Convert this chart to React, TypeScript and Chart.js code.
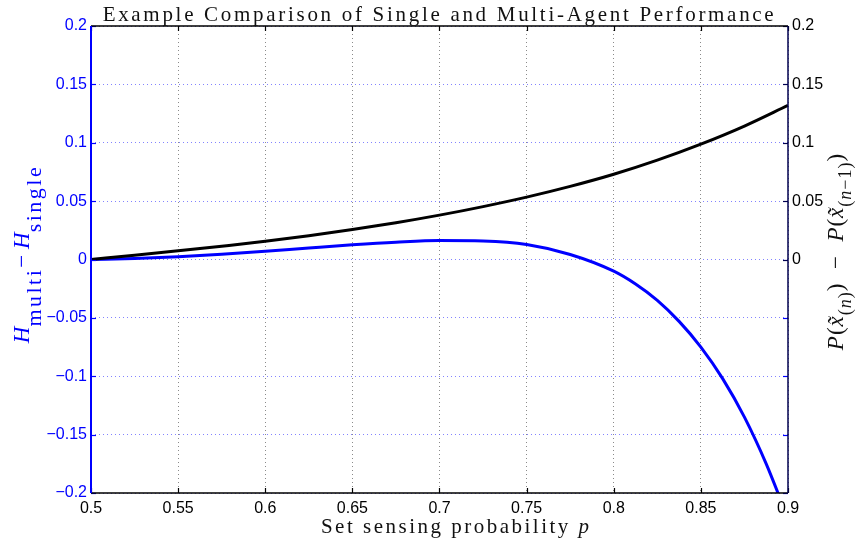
import { useEffect, useRef } from 'react';
import { Chart, registerables } from 'chart.js';

Chart.register(...registerables);

// ---- data ----
const orderP = [0.5, 0.525, 0.55, 0.575, 0.6, 0.625, 0.65, 0.675, 0.7, 0.725, 0.75, 0.775, 0.8, 0.825, 0.85, 0.875, 0.9];
const orderDiff = [0, 0.0036, 0.0074, 0.0114, 0.0156, 0.0204, 0.0257, 0.0315, 0.038, 0.0453, 0.0534, 0.0626, 0.073, 0.0851, 0.0988, 0.1143, 0.132];

const entropyP = [0.5, 0.525, 0.55, 0.575, 0.6, 0.625, 0.65, 0.675, 0.7, 0.725, 0.75, 0.775, 0.8, 0.8125, 0.825, 0.8375, 0.85, 0.8625, 0.875, 0.8875, 0.9];
const entropyDiff = [0, 0.0008, 0.0023, 0.0045, 0.0071, 0.0099, 0.0126, 0.0148, 0.0162, 0.0158, 0.0128, 0.0043, -0.01, -0.021, -0.035, -0.053, -0.075, -0.102, -0.135, -0.175, -0.222];

const xTicks = [0.5, 0.55, 0.6, 0.65, 0.7, 0.75, 0.8, 0.85, 0.9];
const leftTicks = [-0.2, -0.15, -0.1, -0.05, 0, 0.05, 0.1, 0.15, 0.2];
const rightTicks = [0, 0.05, 0.1, 0.15, 0.2];

const titleText = 'Example Comparison of Single and Multi-Agent Performance';

const BLUE = '#0000ff';
const NAVY = '#000050';
const SERIF = '"Liberation Serif", "DejaVu Serif", serif';
const SANS = '"Liberation Sans", Arial, sans-serif';

const fmt = (v: number) => {
  const r = Math.round(v * 1000) / 1000;
  if (r === 0) return '0';
  const s = String(Math.abs(r));
  return (r < 0 ? '\u2212' : '') + s;
};

type Seg = { t: string; f: string; dy?: number; ls?: number };

function drawRich(ctx: CanvasRenderingContext2D, segs: Seg[], cx: number, cy: number, rot: number, color: string) {
  ctx.save();
  ctx.translate(cx, cy);
  ctx.rotate(rot);
  ctx.fillStyle = color;
  ctx.textBaseline = 'alphabetic';
  ctx.textAlign = 'left';
  const c = ctx as any;
  let w = 0;
  for (const s of segs) {
    ctx.font = s.f;
    c.letterSpacing = (s.ls || 0) + 'px';
    w += ctx.measureText(s.t).width;
  }
  let x = -w / 2;
  for (const s of segs) {
    ctx.font = s.f;
    c.letterSpacing = (s.ls || 0) + 'px';
    ctx.fillText(s.t, x, s.dy || 0);
    x += ctx.measureText(s.t).width;
  }
  c.letterSpacing = '0px';
  ctx.restore();
}

const decorPlugin = {
  id: 'decor',
  afterDraw(chart: any) {
    const { ctx, chartArea: a, scales } = chart;
    const xs = scales.x;
    const ys = scales.y;
    const tl = 5;
    ctx.save();
    // inward ticks
    ctx.lineWidth = 1.2;
    ctx.strokeStyle = '#000';
    for (const v of xTicks) {
      const px = Math.round(xs.getPixelForValue(v)) + 0.5;
      ctx.beginPath();
      ctx.moveTo(px, a.bottom);
      ctx.lineTo(px, a.bottom - tl);
      ctx.moveTo(px, a.top);
      ctx.lineTo(px, a.top + tl);
      ctx.stroke();
    }
    for (const v of leftTicks) {
      const py = Math.round(ys.getPixelForValue(v)) + 0.5;
      ctx.strokeStyle = BLUE;
      ctx.beginPath();
      ctx.moveTo(a.left, py);
      ctx.lineTo(a.left + tl, py);
      ctx.stroke();
      ctx.strokeStyle = rightTicks.includes(v) ? NAVY : BLUE;
      ctx.beginPath();
      ctx.moveTo(a.right, py);
      ctx.lineTo(a.right - tl, py);
      ctx.stroke();
    }
    // axes box
    ctx.strokeStyle = '#000';
    ctx.lineWidth = 1.5;
    ctx.beginPath();
    ctx.moveTo(a.left, a.top);
    ctx.lineTo(a.right, a.top);
    ctx.moveTo(a.left, a.bottom);
    ctx.lineTo(a.right, a.bottom);
    ctx.stroke();
    ctx.strokeStyle = NAVY;
    ctx.beginPath();
    ctx.moveTo(a.right, a.top);
    ctx.lineTo(a.right, a.bottom);
    ctx.stroke();
    ctx.strokeStyle = BLUE;
    ctx.lineWidth = 2;
    ctx.beginPath();
    ctx.moveTo(a.left, a.top);
    ctx.lineTo(a.left, a.bottom);
    ctx.stroke();

    // title
    drawRich(ctx, [{ t: titleText, f: `21px ${SERIF}`, ls: 2.7 }], (a.left + a.right) / 2, a.top - 5, 0, '#111');

    // x title
    drawRich(ctx, [
      { t: 'Set sensing probability ', f: `21px ${SERIF}`, ls: 2.5 },
      { t: 'p', f: `italic 21px ${SERIF}` },
    ], 455, 533, 0, '#111');

    // left y title
    drawRich(ctx, [
      { t: 'H', f: `italic 23px ${SERIF}` },
      { t: 'multi', f: `22px ${SERIF}`, dy: 12, ls: 2.5 },
      { t: '\u2212 ', f: `23px ${SERIF}` },
      { t: 'H', f: `italic 23px ${SERIF}` },
      { t: 'single', f: `22px ${SERIF}`, dy: 12, ls: 2.5 },
    ], 29, 254, -Math.PI / 2, BLUE);

    // right y title
    const big = `23px ${SERIF}`;
    const bigI = `italic 23px ${SERIF}`;
    const sm = `18px ${SERIF}`;
    const smI = `italic 18px ${SERIF}`;
    drawRich(ctx, [
      { t: 'P', f: bigI, ls: 1 },
      { t: '(', f: big, ls: 1 },
      { t: 'x\u0303', f: bigI, ls: 1 },
      { t: '(', f: sm, dy: 8, ls: 1 },
      { t: 'n', f: smI, dy: 8, ls: 1 },
      { t: ')', f: sm, dy: 8, ls: 1 },
      { t: ')  \u2212  ', f: big, ls: 1 },
      { t: 'P', f: bigI, ls: 1 },
      { t: '(', f: big, ls: 1 },
      { t: 'x\u0303', f: bigI, ls: 1 },
      { t: '(', f: sm, dy: 8, ls: 1 },
      { t: 'n', f: smI, dy: 8, ls: 1 },
      { t: '\u22121)', f: sm, dy: 8, ls: 1 },
      { t: ')', f: big },
    ], 843, 252, -Math.PI / 2, '#111');
    ctx.restore();
  },
};

export default function App() {
  const ref = useRef<HTMLCanvasElement | null>(null);
  useEffect(() => {
    if (!ref.current) return;
    const chart = new Chart(ref.current, {
      type: 'line',
      data: {
        datasets: [
          {
            label: 'H_multi - H_single',
            data: entropyP.map((p, i) => ({ x: p, y: entropyDiff[i] })),
            borderColor: BLUE,
            borderWidth: 3,
            pointRadius: 0,
            cubicInterpolationMode: 'monotone',
            yAxisID: 'y',
            order: 2,
          },
          {
            label: 'P difference',
            data: orderP.map((p, i) => ({ x: p, y: orderDiff[i] })),
            borderColor: '#000',
            borderWidth: 3,
            pointRadius: 0,
            cubicInterpolationMode: 'monotone',
            yAxisID: 'y2',
            order: 1,
          },
        ],
      },
      options: {
        animation: false,
        responsive: false,
        maintainAspectRatio: false,
        layout: { padding: { top: 26, left: 0, right: 0, bottom: 0 } },
        plugins: {
          legend: { display: false },
          tooltip: { enabled: false },
          title: { display: false },
        },
        scales: {
          x: {
            type: 'linear',
            min: 0.5,
            max: 0.9,
            afterBuildTicks: (s: any) => {
              s.ticks = xTicks.map((v) => ({ value: v }));
            },
            afterFit: (s: any) => {
              s.height = 49;
            },
            grid: { drawTicks: false, color: '#8a8a8a', lineWidth: 1 },
            border: { display: false, dash: [1, 3] },
            ticks: {
              padding: 6,
              color: '#000',
              font: { family: SANS, size: 16 },
              maxRotation: 0,
              callback: (v: any) => fmt(Number(v)),
            },
          },
          y: {
            type: 'linear',
            position: 'left',
            min: -0.2,
            max: 0.2,
            afterBuildTicks: (s: any) => {
              s.ticks = leftTicks.map((v) => ({ value: v }));
            },
            afterFit: (s: any) => {
              s.width = 91;
            },
            grid: { drawTicks: false, color: 'rgba(90,90,255,0.75)', lineWidth: 1 },
            border: { display: false, dash: [1, 3] },
            ticks: {
              padding: 4,
              color: BLUE,
              font: { family: SANS, size: 16 },
              callback: (v: any) => fmt(Number(v)),
            },
          },
          y2: {
            type: 'linear',
            position: 'right',
            min: -0.2,
            max: 0.2,
            afterBuildTicks: (s: any) => {
              s.ticks = rightTicks.map((v) => ({ value: v }));
            },
            afterFit: (s: any) => {
              s.width = 68;
            },
            grid: { display: false, drawTicks: false },
            border: { display: false },
            ticks: {
              padding: 4,
              color: '#000',
              font: { family: SANS, size: 16 },
              callback: (v: any) => fmt(Number(v)),
            },
          },
        },
      },
      plugins: [decorPlugin],
    } as any);
    return () => chart.destroy();
  }, []);
  return (
    <div style={{ position: 'fixed', left: 0, top: 0, width: 856, height: 542, background: '#fff' }}>
      <canvas ref={ref} width={856} height={542} style={{ width: 856, height: 542, display: 'block' }} />
    </div>
  );
}
